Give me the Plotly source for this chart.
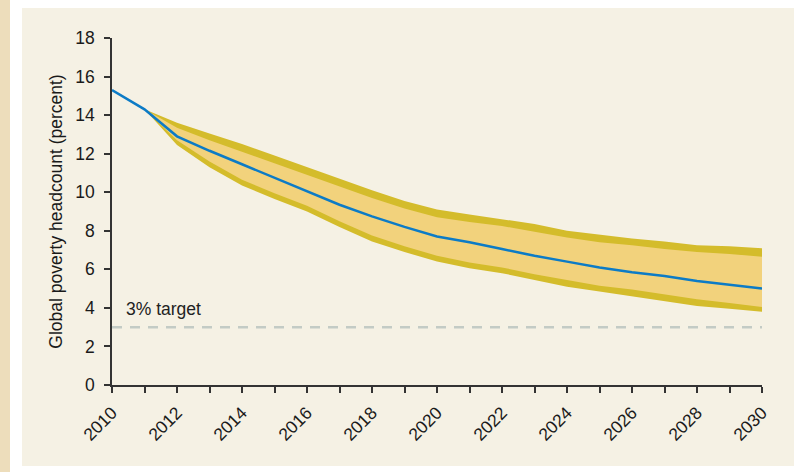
import plotly.graph_objects as go

years = list(range(2010, 2031))
band_years = list(range(2011, 2031))

central = [15.3, 14.3, 12.9, 12.15, 11.45, 10.75, 10.05, 9.35, 8.75, 8.2, 7.7,
           7.4, 7.05, 6.7, 6.4, 6.1, 5.85, 5.65, 5.4, 5.2, 5.0]

upper_outer = [14.3, 13.6, 13.05, 12.5, 11.9, 11.3, 10.7, 10.1, 9.55, 9.1,
               8.85, 8.6, 8.35, 8.0, 7.8, 7.6, 7.45, 7.25, 7.2, 7.1]
upper_inner = [14.3, 13.35, 12.7, 12.1, 11.5, 10.9, 10.3, 9.7, 9.15, 8.7,
               8.45, 8.25, 7.95, 7.65, 7.4, 7.25, 7.05, 6.9, 6.8, 6.65]
lower_inner = [14.3, 12.7, 11.6, 10.65, 9.95, 9.3, 8.5, 7.75, 7.2, 6.7,
               6.35, 6.1, 5.75, 5.45, 5.15, 4.95, 4.7, 4.45, 4.25, 4.05]
lower_outer = [14.3, 12.45, 11.3, 10.35, 9.65, 9.0, 8.2, 7.45, 6.9, 6.4,
               6.05, 5.8, 5.45, 5.1, 4.85, 4.6, 4.35, 4.1, 3.95, 3.8]

target_years = [2010, 2030]
target_values = [3, 3]

DARK_GOLD = "#D4BC2B"
LIGHT_GOLD = "#F2D27C"
BLUE = "#0C7BC6"
CREAM = "#F5F1E4"
TAN = "#EDDDBB"

fig = go.Figure()
fig.add_trace(go.Scatter(x=band_years, y=upper_outer, mode="lines",
                         line=dict(width=0, color=DARK_GOLD), hoverinfo="skip"))
fig.add_trace(go.Scatter(x=band_years, y=lower_outer, mode="lines", fill="tonexty",
                         fillcolor=DARK_GOLD, line=dict(width=0, color=DARK_GOLD),
                         hoverinfo="skip"))
fig.add_trace(go.Scatter(x=band_years, y=upper_inner, mode="lines",
                         line=dict(width=0, color=LIGHT_GOLD), hoverinfo="skip"))
fig.add_trace(go.Scatter(x=band_years, y=lower_inner, mode="lines", fill="tonexty",
                         fillcolor=LIGHT_GOLD, line=dict(width=0, color=LIGHT_GOLD),
                         hoverinfo="skip"))
fig.add_trace(go.Scatter(x=target_years, y=target_values, mode="lines",
                         line=dict(color="#C3CBC5", width=2.5, dash="10px,8px")))
fig.add_trace(go.Scatter(x=years, y=central, mode="lines",
                         line=dict(color=BLUE, width=2.5)))

fig.add_annotation(x=2010.38, y=3.3, text="3% target", showarrow=False,
                   xanchor="left", yanchor="bottom",
                   font=dict(size=17.5, color="#222222"))

# Background panels (paper coords relative to plot area)
L, R, T, B = 112, 37, 38, 87
W, H = 799 - L - R, 472 - T - B

def px(p):
    return (p - L) / W

def py(p):
    return (472 - B - p) / H

fig.add_shape(type="rect", xref="paper", yref="paper", x0=px(0), x1=px(10),
              y0=py(472), y1=py(0), fillcolor=TAN, line=dict(width=0), layer="below")
fig.add_shape(type="rect", xref="paper", yref="paper", x0=px(22), x1=px(794),
              y0=py(466), y1=py(8), fillcolor=CREAM, line=dict(width=0), layer="below")

fig.update_layout(
    width=799, height=472,
    margin=dict(l=L, r=R, t=T, b=B, autoexpand=False),
    paper_bgcolor="white",
    plot_bgcolor="rgba(0,0,0,0)",
    showlegend=False,
    font=dict(family="Liberation Sans, Arial, sans-serif", color="#1a1a1a"),
)
fig.update_xaxes(
    range=[2010, 2030], tickmode="linear", tick0=2010, dtick=2,
    tickangle=-45, ticks="outside", ticklen=6, tickcolor="#333333", tickwidth=1.5,
    showline=True, linecolor="#333333", linewidth=1.5, showgrid=False,
    zeroline=False, tickfont=dict(size=17.5, color="#1a1a1a"), automargin=False,
    ticklabelstandoff=3,
    minor=dict(ticks="outside", dtick=1, ticklen=6, tickcolor="#333333", tickwidth=1.5,
               showgrid=False),
)
fig.update_yaxes(
    range=[0, 18], tickmode="linear", tick0=0, dtick=2,
    ticks="outside", ticklen=6, tickcolor="#333333", tickwidth=1.5,
    showline=True, linecolor="#333333", linewidth=1.5, showgrid=False,
    zeroline=False, tickfont=dict(size=17.5, color="#1a1a1a"), automargin=False,
    ticklabelstandoff=6,
    title=dict(text="Global poverty headcount (percent)", font=dict(size=17.5), standoff=8),
)

fig.write_html("out.html", config={"displayModeBar": False},
               post_script="document.body.style.margin='0';document.body.style.overflow='hidden';")
